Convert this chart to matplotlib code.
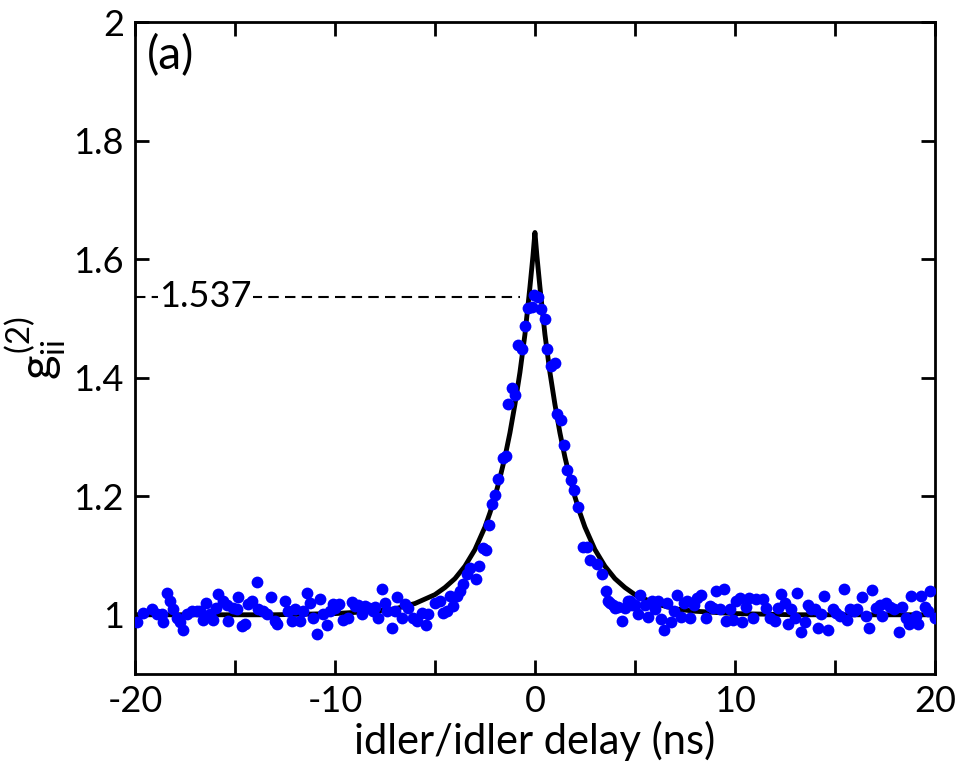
import numpy as np
import matplotlib
matplotlib.use('Agg')
import matplotlib.pyplot as plt
from matplotlib.ticker import MultipleLocator, FormatStrFormatter

plt.rcParams['font.family'] = ['Lato', 'DejaVu Sans']
plt.rcParams['mathtext.fontset'] = 'custom'
plt.rcParams['mathtext.rm'] = 'Lato'
plt.rcParams['mathtext.it'] = 'Lato'
plt.rcParams['axes.unicode_minus'] = False

# measured coincidences, idler/idler
delay_ns = [-19.92, -19.58, -19.17, -18.92, -18.67, -18.58, -18.42, -18.25, -18.08, -17.92,
            -17.75, -17.62, -17.42, -17.17, -16.92, -16.75, -16.62, -16.45, -16.25, -16.12,
            -15.95, -15.83, -15.58, -15.42, -15.33, -15.08, -14.92, -14.83, -14.67, -14.5,
            -14.33, -14.17, -13.92, -13.83, -13.58, -13.42, -13.22, -13.0, -12.92,
            -12.5, -12.33, -12.17, -12.0, -11.75, -11.58, -11.42, -11.25, -11.08, -10.92,
            -10.75, -10.58, -10.42, -10.25, -10.08, -10.0, -9.78, -9.58, -9.33, -9.17,
            -9.0, -8.83, -8.67, -8.5, -8.28, -8.08, -8.0, -7.83, -7.67, -7.5,
            -7.42, -7.17, -7.0, -6.88, -6.67, -6.5, -6.33, -6.08, -5.92, -5.67,
            -5.45, -5.33,
            -5.0, -4.75, -4.58, -4.42, -4.25, -4.08, -3.92, -3.75, -3.58, -3.42,
            -3.25, -2.95, -2.78, -2.58, -2.45, -2.3, -2.17, -2.0, -1.83, -1.62,
            -1.45, -1.33, -1.17, -1.0, -0.83, -0.67, -0.5, -0.33, -0.17, -0.05,
            0.17, 0.28, 0.5, 0.62, 0.78, 1.0, 1.12, 1.28, 1.45, 1.58,
            1.78, 1.95, 2.17, 2.42, 2.58, 2.75, 3.08, 3.33, 3.55, 3.67,
            3.75, 3.92, 4.0, 4.17, 4.33, 4.5, 4.67, 4.75, 4.83, 5.0,
            5.17, 5.25, 5.5, 5.67, 5.83, 6.0, 6.17, 6.3, 6.47, 6.63,
            6.8, 6.97, 7.13, 7.3, 7.47, 7.63, 7.75, 7.97, 8.13, 8.33,
            8.58, 8.75, 8.92, 9.08, 9.25, 9.45, 9.58, 9.75, 9.92, 10.08,
            10.25, 10.38, 10.58, 10.72, 10.92, 11.08, 11.42, 11.58,
            11.75, 12.0, 12.17, 12.33, 12.5, 12.67, 12.83, 13.0, 13.13, 13.3,
            13.5, 13.67, 13.83, 14.0, 14.17, 14.3, 14.47, 14.67, 14.92, 15.08,
            15.25, 15.45, 15.62, 15.75, 15.97, 16.13, 16.38, 16.55, 16.72, 16.88,
            17.08, 17.25, 17.38, 17.58, 17.75, 17.97, 18.22, 18.38, 18.58, 18.72,
            18.83, 19.05, 19.17, 19.33, 19.5, 19.67, 19.78, 20.0]

g2_ii = [0.987, 1.003, 1.009, 1.001, 1.001, 0.987, 1.037, 1.024, 1.009, 0.995,
         0.987, 0.975, 1.001, 1.006, 1.006, 1.007, 0.992, 1.020, 1.001, 0.992,
         1.012, 1.035, 1.023, 1.017, 0.990, 1.012, 1.009, 1.030, 0.981, 0.985,
         1.018, 1.023, 1.055, 1.009, 1.006, 1.001, 1.030, 0.989, 0.984,
         1.023, 1.006, 0.989, 1.009, 0.990, 1.006, 1.037, 1.020, 0.995, 0.967,
         1.027, 1.001, 0.983, 1.006, 1.018, 1.012, 1.018, 0.992, 0.995, 1.021,
         1.015, 1.017, 1.002, 1.015, 1.012, 1.007, 1.013, 0.995, 1.043, 1.020,
         1.007, 0.978, 1.007, 1.030, 0.995, 1.018, 1.012, 0.995, 0.989, 1.003,
         0.983, 1.001,
         1.020, 1.023, 1.003, 1.006, 1.031, 1.015, 1.031, 1.040, 1.052, 1.068,
         1.079, 1.061, 1.083, 1.113, 1.110, 1.151, 1.187, 1.202, 1.229, 1.264,
         1.268, 1.356, 1.383, 1.371, 1.455, 1.448, 1.487, 1.517, 1.520, 1.539,
         1.536, 1.516, 1.499, 1.449, 1.420, 1.424, 1.339, 1.328, 1.286, 1.244,
         1.227, 1.211, 1.181, 1.115, 1.115, 1.093, 1.086, 1.068, 1.040, 1.023,
         1.020, 1.017, 1.012, 1.013, 0.989, 1.012, 1.024, 1.023, 1.017, 1.017,
         1.001, 1.034, 1.017, 0.996, 1.024, 1.009, 1.024, 0.993, 0.974, 1.020,
         0.987, 1.006, 1.033, 0.996, 1.020, 1.024, 0.994, 1.017, 1.029, 1.033,
         0.994, 1.015, 1.012, 1.040, 1.009, 1.043, 0.989, 1.009, 0.992, 1.023,
         1.029, 0.987, 1.013, 1.029, 0.995, 1.026, 1.026, 1.012,
         0.995, 0.989, 1.012, 1.035, 1.020, 0.984, 1.009, 0.995, 1.037, 0.971,
         0.987, 1.017, 1.009, 1.009, 0.977, 1.001, 1.031, 0.975, 1.009, 1.003,
         0.998, 1.044, 0.992, 1.009, 1.006, 1.009, 1.030, 0.998, 0.978, 1.041,
         1.012, 1.017, 0.998, 1.020, 1.013, 1.009, 0.971, 1.013, 0.995, 0.984,
         1.031, 0.998, 0.984, 1.031, 1.013, 1.006, 1.040, 0.995]

# fitted curve
fit_t = [-20, -13, -10, -9, -8, -7, -6, -5, -4.5, -4, -3.5, -3, -2.5, -2.25, -2, -1.75,
         -1.5, -1.25, -1, -0.75, -0.5, -0.25, -0.1, 0,
         0.1, 0.25, 0.5, 0.75, 1, 1.25, 1.5, 1.75, 2, 2.25, 2.5, 3, 3.5, 4, 4.5,
         5, 6, 7, 8, 9, 10, 13, 20]
fit_g = [1.000, 1.000, 1.002, 1.004, 1.006, 1.010, 1.019, 1.034, 1.046, 1.061, 1.082,
         1.110, 1.148, 1.172, 1.199, 1.231, 1.266, 1.307, 1.355, 1.409, 1.473, 1.553,
         1.605, 1.645,
         1.605, 1.553, 1.473, 1.409, 1.355, 1.307, 1.266, 1.231, 1.199, 1.172, 1.148,
         1.110, 1.082, 1.061, 1.046, 1.034, 1.019, 1.010, 1.006, 1.004, 1.002, 1.000,
         1.000]

peak_val = 1.537
peak_end = -0.75

fig = plt.figure(figsize=(9.59, 7.67), dpi=100)
ax = fig.add_axes([0.1408, 0.1212, 0.834, 0.850])

ax.plot(fit_t, fit_g, color='black', lw=3.5, zorder=2)
ax.plot(delay_ns, g2_ii, 'o', color='#0000ff', ms=8.5, mec='none', zorder=3)

ax.plot([-20, peak_end], [peak_val, peak_val], color='black', lw=1.5,
        linestyle=(0, (5, 3)), zorder=1)
ax.text(-18.8, peak_val, '%.3f' % peak_val, fontsize=26, va='center', ha='left',
        bbox=dict(facecolor='white', edgecolor='none', pad=1), zorder=1.5)

ax.text(-19.4, 1.98, '(a)', fontsize=33, va='top', ha='left')

ax.set_xlim(-20, 20)
ax.set_ylim(0.9, 2.0)
ax.xaxis.set_major_locator(MultipleLocator(10))
ax.xaxis.set_minor_locator(MultipleLocator(5))
ax.yaxis.set_major_formatter(FormatStrFormatter('%g'))
ax.set_yticks([1, 1.2, 1.4, 1.6, 1.8, 2])
ax.tick_params(which='both', direction='in', top=True, right=True,
               length=10, width=2, labelsize=26, pad=8)
for s in ax.spines.values():
    s.set_linewidth(2)

ax.set_xlabel('idler/idler delay (ns)', fontsize=30, labelpad=2)
ax.set_ylabel(r'$g^{(2)}_{ii}$', fontsize=34, labelpad=4)

plt.savefig('out.png', dpi=100)
